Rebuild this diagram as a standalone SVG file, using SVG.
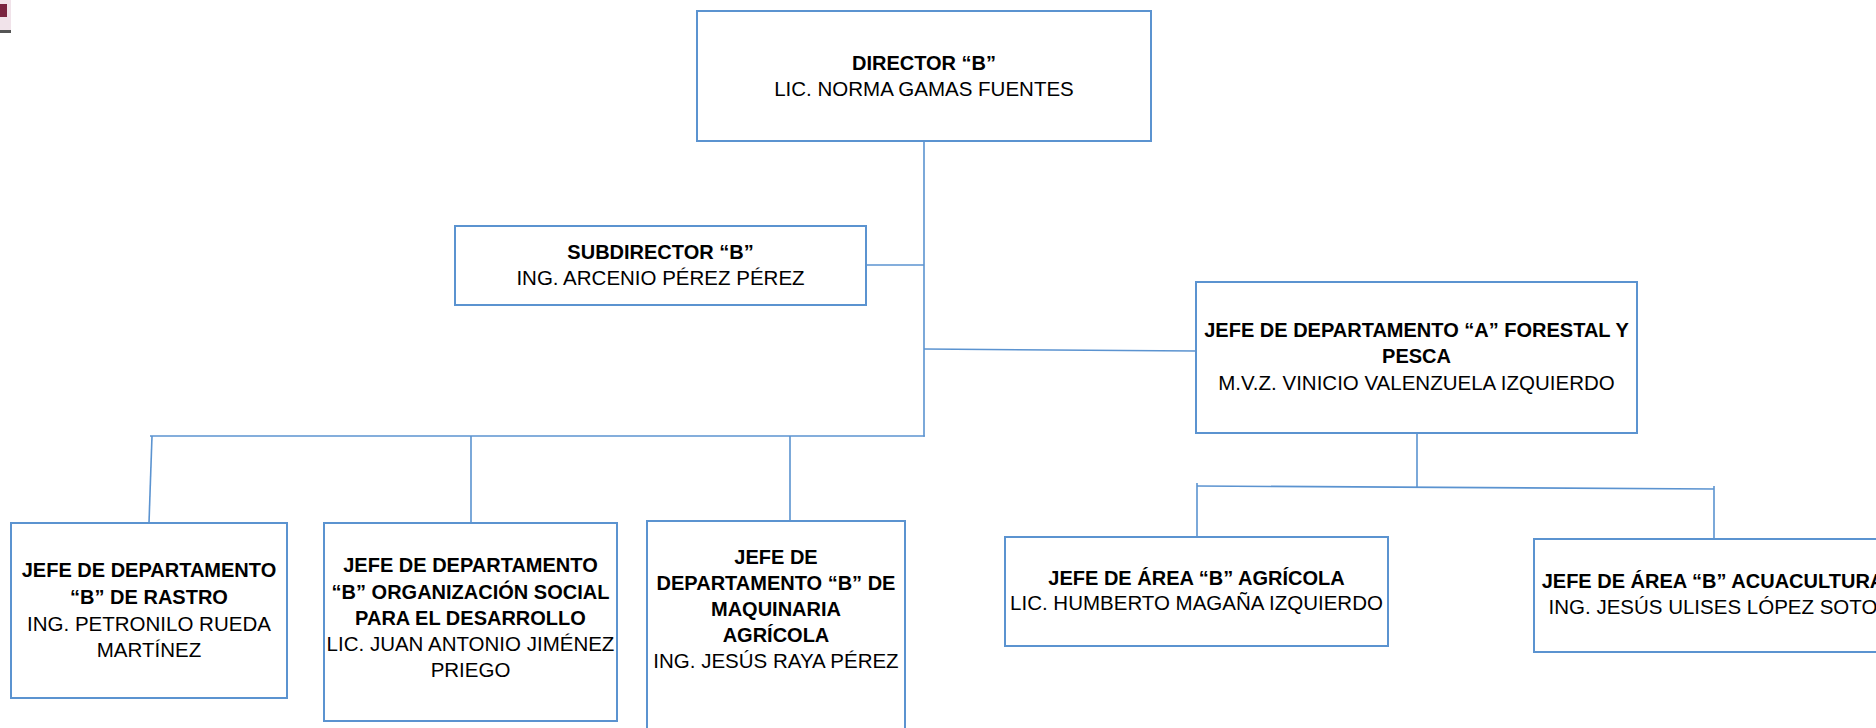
<svg xmlns="http://www.w3.org/2000/svg" width="1876" height="728" viewBox="0 0 1876 728">
<style>
.box{fill:#fff;stroke:#5B93D0;stroke-width:2}
.ln{fill:none;stroke:#5B93D0;stroke-width:1.6}
text{font-family:"Liberation Sans",Arial,sans-serif;fill:#000;text-anchor:middle}
.b{font-weight:bold;font-size:20px}
.r{font-size:20.5px}
</style>
<rect width="1876" height="728" fill="#fff"/>
<g id="logo-fragment">
<rect x="0" y="0" width="11" height="31" fill="#f1e3ea"/>
<rect x="0" y="4" width="7" height="13" fill="#7a2440"/>
<rect x="0" y="30" width="11" height="3" fill="#555"/>
</g>
<g id="connectors">
<line class="ln" x1="924" y1="141" x2="924" y2="436.8"/>
<line class="ln" x1="866" y1="265" x2="924" y2="265"/>
<line class="ln" x1="924" y1="349" x2="1196" y2="351"/>
<line class="ln" x1="150" y1="436" x2="924.8" y2="436"/>
<line class="ln" x1="152" y1="436" x2="149" y2="523"/>
<line class="ln" x1="471" y1="436" x2="471" y2="523"/>
<line class="ln" x1="790" y1="436" x2="790" y2="521"/>
<line class="ln" x1="1417" y1="433" x2="1417" y2="488"/>
<line class="ln" x1="1197" y1="486" x2="1714" y2="489"/>
<line class="ln" x1="1197" y1="483" x2="1197" y2="537"/>
<line class="ln" x1="1714" y1="486" x2="1714" y2="539"/>
</g>
<g id="director">
<rect class="box" x="697" y="11" width="454" height="130"/>
<text class="b" x="924" y="70">DIRECTOR “B”</text>
<text class="r" x="924" y="96">LIC. NORMA GAMAS FUENTES</text>
</g>
<g id="subdirector">
<rect class="box" x="455" y="226" width="411" height="79"/>
<text class="b" x="660.5" y="259">SUBDIRECTOR “B”</text>
<text class="r" x="660.5" y="285">ING. ARCENIO PÉREZ PÉREZ</text>
</g>
<g id="jefe-forestal">
<rect class="box" x="1196" y="282" width="441" height="151"/>
<text class="b" x="1416.5" y="337">JEFE DE DEPARTAMENTO “A” FORESTAL Y</text>
<text class="b" x="1416.5" y="363">PESCA</text>
<text class="r" x="1416.5" y="390">M.V.Z. VINICIO VALENZUELA IZQUIERDO</text>
</g>
<g id="jefe-rastro">
<rect class="box" x="11" y="523" width="276" height="175"/>
<text class="b" x="149" y="577">JEFE DE DEPARTAMENTO</text>
<text class="b" x="149" y="604">“B” DE RASTRO</text>
<text class="r" x="149" y="631">ING. PETRONILO RUEDA</text>
<text class="r" x="149" y="657">MARTÍNEZ</text>
</g>
<g id="jefe-organizacion">
<rect class="box" x="324" y="523" width="293" height="198"/>
<text class="b" x="470.5" y="572">JEFE DE DEPARTAMENTO</text>
<text class="b" x="470.5" y="599">“B” ORGANIZACIÓN SOCIAL</text>
<text class="b" x="470.5" y="625">PARA EL DESARROLLO</text>
<text class="r" x="470.5" y="651">LIC. JUAN ANTONIO JIMÉNEZ</text>
<text class="r" x="470.5" y="677">PRIEGO</text>
</g>
<g id="jefe-maquinaria">
<rect class="box" x="647" y="521" width="258" height="220"/>
<text class="b" x="776" y="564">JEFE DE</text>
<text class="b" x="776" y="590">DEPARTAMENTO “B” DE</text>
<text class="b" x="776" y="616">MAQUINARIA</text>
<text class="b" x="776" y="642">AGRÍCOLA</text>
<text class="r" x="776" y="668">ING. JESÚS RAYA PÉREZ</text>
</g>
<g id="jefe-agricola">
<rect class="box" x="1005" y="537" width="383" height="109"/>
<text class="b" x="1196.5" y="585">JEFE DE ÁREA “B” AGRÍCOLA</text>
<text class="r" x="1196.5" y="610">LIC. HUMBERTO MAGAÑA IZQUIERDO</text>
</g>
<g id="jefe-acuacultura">
<rect class="box" x="1534" y="539" width="360" height="113"/>
<text class="b" x="1713" y="588">JEFE DE ÁREA “B” ACUACULTURA</text>
<text class="r" x="1713" y="614">ING. JESÚS ULISES LÓPEZ SOTO</text>
</g>
</svg>
